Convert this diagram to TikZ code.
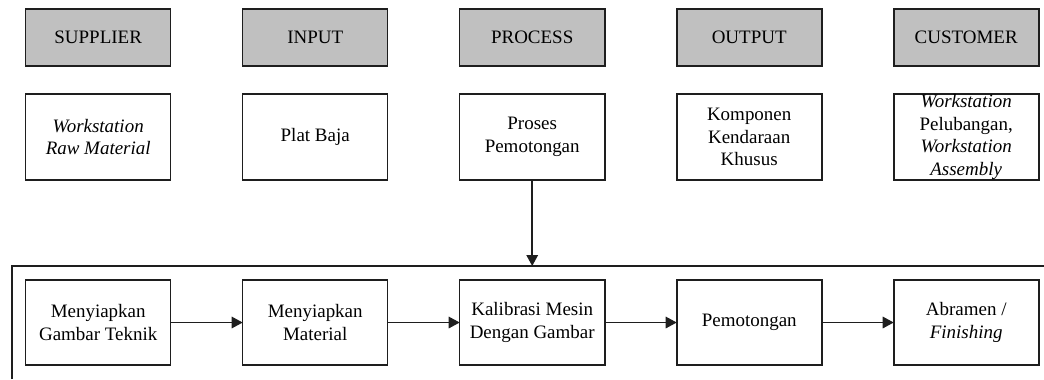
\documentclass[tikz,border=0pt]{standalone}
\usepackage{fontspec}
\setmainfont{Liberation Serif}
\usepackage{tikz}
\usetikzlibrary{arrows.meta,positioning,calc}
\definecolor{headGray}{RGB}{192,192,192}
\definecolor{lineBlack}{RGB}{30,30,30}
\tikzset{
  head node/.style={draw=lineBlack,fill=headGray,line width=0.9pt,align=center,minimum width=29mm,minimum height=11.4mm,inner sep=0pt,outer sep=0pt},
  item node/.style={draw=lineBlack,fill=white,line width=0.9pt,align=center,minimum width=29mm,minimum height=17.2mm,inner xsep=1mm,inner ysep=0pt,outer sep=0pt},
  flow node/.style={item node,minimum height=17mm},
  flow arrow/.style={-{Triangle[length=2.2mm,width=2.3mm]},line width=0.9pt,draw=lineBlack},
  frame line/.style={line width=0.9pt,draw=lineBlack}
}

\begin{document}
\begin{tikzpicture}[node distance=14.4mm,font=\fontsize{10.8pt}{12.8pt}\selectfont]
  \useasboundingbox (0,0) rectangle (208.8mm,-75.8mm);
  % header row
  \node[head node] (supplier) at (19.64mm,-7.5mm) {SUPPLIER};
  \node[head node,right=of supplier] (input) {INPUT};
  \node[head node,right=of input] (process) {PROCESS};
  \node[head node,right=of process] (output) {OUTPUT};
  \node[head node,right=of output] (customer) {CUSTOMER};
  % contents
  \node[item node,below=5.6mm of supplier] (rawmat) {\textit{Workstation}\\\textit{Raw Material}};
  \node[item node,below=5.6mm of input] (plate) {Plat Baja};
  \node[item node,below=5.6mm of process] (cutting) {Proses\\Pemotongan};
  \node[item node,below=5.6mm of output] (component) {Komponen\\Kendaraan\\Khusus};
  \node[item node,below=5.6mm of customer] (nextws) {\textit{Workstation}\\Pelubangan,\\\textit{Workstation}\\\textit{Assembly}};
  % detail frame
  \coordinate (frameTL) at (2.4mm,-53.2mm);
  \coordinate (frameTR) at (208.8mm,-53.2mm);
  \coordinate (frameBL) at (2.4mm,-75.8mm);
  \draw[frame line] (frameBL) -- (frameTL) -- (frameTR);
  \draw[flow arrow] (cutting.south) -- (cutting.south |- frameTL);
  % process steps
  \node[flow node] (drawing) at ($(supplier |- frameTL)+(0,-11.3mm)$) {Menyiapkan\\Gambar Teknik};
  \node[flow node,right=of drawing] (material) {Menyiapkan\\Material};
  \node[flow node,right=of material] (calib) {Kalibrasi Mesin\\Dengan Gambar};
  \node[flow node,right=of calib] (cut) {Pemotongan};
  \node[flow node,right=of cut] (finish) {Abramen /\\\textit{Finishing}};
  \draw[flow arrow] (drawing) -- (material);
  \draw[flow arrow] (material) -- (calib);
  \draw[flow arrow] (calib) -- (cut);
  \draw[flow arrow] (cut) -- (finish);
\end{tikzpicture}
\end{document}
